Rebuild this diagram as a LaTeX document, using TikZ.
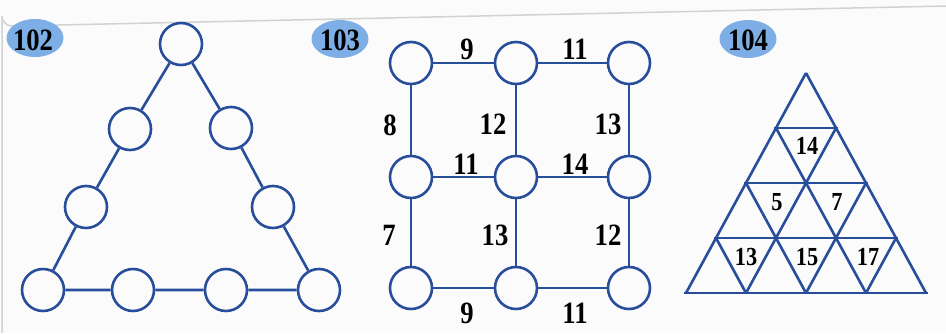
\documentclass[tikz,border=0pt]{standalone}
\usepackage{fontspec}
\setmainfont{Liberation Serif}
\newfontfamily\condserif[FakeStretch=0.86]{Liberation Serif}
\usetikzlibrary{shapes.geometric}
\begin{document}
\begin{tikzpicture}[x=1pt,y=-1pt,
  ln/.style={draw=lineblue,line width=2.6pt},
  ring/.style={circle,draw=lineblue,line width=2.6pt,minimum size=42pt,inner sep=0pt},
  badge/.style={ellipse,fill=badgeblue,minimum width=57pt,minimum height=38pt,inner sep=0pt},
  num/.style={inner sep=0pt,font=\condserif\fontsize{31}{31}\selectfont\bfseries},
  tnum/.style={inner sep=0pt,font=\condserif\fontsize{26}{26}\selectfont\bfseries}]
\definecolor{lineblue}{RGB}{40,78,155}
\definecolor{badgeblue}{RGB}{125,175,230}
\definecolor{bg}{RGB}{251,251,251}
\useasboundingbox (0,0) rectangle (946,333);
\fill[bg] (0,0) rectangle (946,333);
\draw[gray!35,line width=1.5pt] (2,333) -- (2,16) arc[start angle=180,end angle=90,radius=10] -- (946,6);
% ---- 102 ----
\node[badge] (b102) at (35,38) {};
\node[num] (n102) at (33,40) {102};
\node[ring] (t1) at (181,44) {};
\node[ring] (l2) at (130,129) {};
\node[ring] (r2) at (231,128) {};
\node[ring] (l3) at (86,207) {};
\node[ring] (r3) at (273,207) {};
\node[ring] (b1) at (43,290) {};
\node[ring] (b2) at (133,290) {};
\node[ring] (b3) at (226,290) {};
\node[ring] (b4) at (319,290) {};
\draw[ln] (t1) -- (l2) -- (l3) -- (b1) -- (b2) -- (b3) -- (b4) -- (r3) -- (r2) -- (t1);
% ---- 103 ----
\node[badge] (b103) at (340,39) {};
\node[num] (n103) at (340,40) {103};
\node[ring] (g11) at (411,63) {};
\node[ring] (g12) at (516,63) {};
\node[ring] (g13) at (629,63) {};
\node[ring] (g21) at (411,177) {};
\node[ring] (g22) at (516,177) {};
\node[ring] (g23) at (629,177) {};
\node[ring] (g31) at (411,288) {};
\node[ring] (g32) at (516,288) {};
\node[ring] (g33) at (629,288) {};
\draw[ln] (g11) -- (g12) -- (g13);
\draw[ln] (g21) -- (g22) -- (g23);
\draw[ln] (g31) -- (g32) -- (g33);
\draw[ln] (g11) -- (g21) -- (g31);
\draw[ln] (g12) -- (g22) -- (g32);
\draw[ln] (g13) -- (g23) -- (g33);
\node[num] (e1) at (467,49) {9};
\node[num] (e2) at (575,49) {11};
\node[num] (e3) at (390,125) {8};
\node[num] (e4) at (493,124) {12};
\node[num] (e5) at (608,124) {13};
\node[num] (e6) at (466,164) {11};
\node[num] (e7) at (575,164) {14};
\node[num] (e8) at (389,235) {7};
\node[num] (e9) at (495,235) {13};
\node[num] (e10) at (608,235) {12};
\node[num] (e11) at (467,313) {9};
\node[num] (e12) at (575,313) {11};
% ---- 104 ----
\node[badge] (b104) at (748,39) {};
\node[num] (n104) at (748,40) {104};
\foreach \k in {1,...,4}{
  \draw[ln] ({806-30*\k-2},{73+55*\k}) -- ({806+30*\k+2},{73+55*\k});
}
\foreach \j in {0,...,3}{
  \draw[ln] ({806+30*\j},{73+55*\j}) -- ({806-120+60*\j},293);
}
\foreach \j in {0,...,3}{
  \draw[ln] ({806-30*\j},{73+55*\j}) -- ({806+120-60*\j},293);
}
\node[tnum] (c1) at (807,146) {14};
\node[tnum] (c2) at (777,202) {5};
\node[tnum] (c3) at (837,202) {7};
\node[tnum] (c4) at (746,257) {13};
\node[tnum] (c5) at (807,257) {15};
\node[tnum] (c6) at (868,257) {17};
\end{tikzpicture}
\end{document}
